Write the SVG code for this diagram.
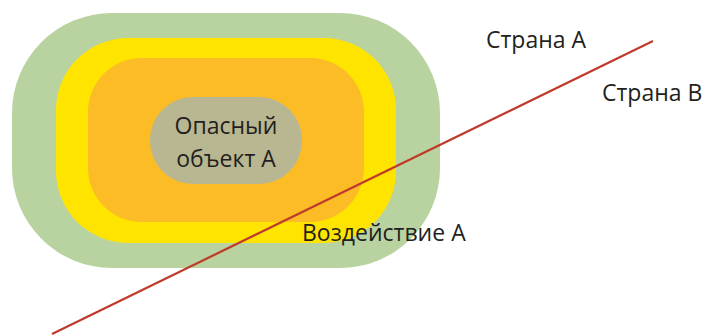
<svg xmlns="http://www.w3.org/2000/svg" width="702" height="336" viewBox="0 0 702 336">
<style>
.t{font-family:"Open Sans","Noto Sans","Liberation Sans",sans-serif;font-size:23px;fill:#231f20}
</style>
<rect width="702" height="336" fill="#ffffff"/>
<g id="zone-green"><rect x="12" y="13" width="428" height="255" rx="100" ry="100" fill="#b8d39f"/></g>
<g id="zone-yellow"><rect x="56" y="38" width="340" height="205" rx="72" ry="72" fill="#ffe400"/></g>
<g id="zone-orange"><rect x="88" y="58" width="276" height="164" rx="54" ry="54" fill="#fcbc26"/></g>
<g id="object-a"><rect x="150" y="97" width="152" height="87" rx="43" ry="43" fill="#b9b791"/>
<text class="t" x="226" y="134" text-anchor="middle">Опасный</text>
<text class="t" x="226" y="167" text-anchor="middle">объект А</text></g>
<g id="connectors"><line x1="52" y1="334" x2="653" y2="41" stroke="#c0392b" stroke-width="2.2"/></g>
<g id="labels">
<text class="t" x="302" y="241">Воздействие А</text>
<text class="t" x="486" y="48">Страна А</text>
<text class="t" x="602" y="101">Страна В</text>
</g>
</svg>
